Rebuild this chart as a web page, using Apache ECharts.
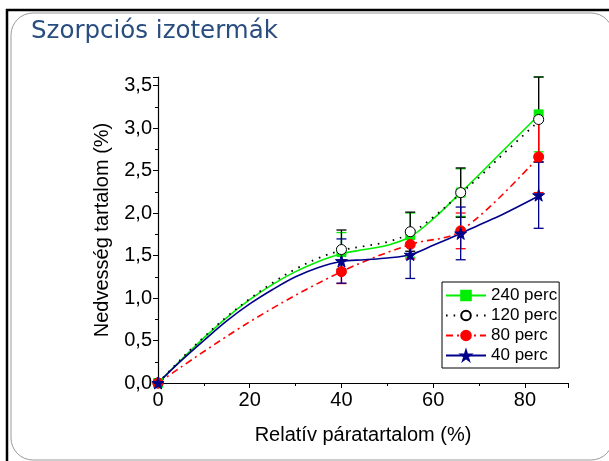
<!DOCTYPE html>
<html><head><meta charset="utf-8">
<script src="https://cdn.jsdelivr.net/npm/echarts@6/dist/echarts.min.js"></script>
<style>html,body{margin:0;padding:0;background:#fff}#c{width:609px;height:461px}</style>
</head><body><div id="c"></div>
<script>
// Measured points (x = relative humidity %, y = moisture content %)
const xPoints = [0, 40, 55, 66, 83];
const p240 = [0, 1.54, 1.74, 2.24, 3.16];
const p120 = [0, 1.57, 1.78, 2.24, 3.10];
const p80  = [0, 1.31, 1.63, 1.79, 2.66];
const p40  = [0, 1.435, 1.51, 1.76, 2.21];
// error bar half-widths
const e240 = [0, 0.23, 0.26, 0.28, 0.44];
const e120 = [0, 0.23, 0.23, 0.29, 0.50];
const e80  = [0, 0.14, 0.17, 0.21, 0.42];
const e40  = [0, 0.26, 0.28, 0.31, 0.39];
// Fitted curves
const xCurve = [0, 5, 10, 15, 20, 25, 30, 35, 40, 45, 50, 55, 60, 66, 70, 75, 83];
const c240 = [0, 0.27, 0.53, 0.77, 0.98, 1.16, 1.31, 1.43, 1.52, 1.57, 1.62, 1.72, 1.93, 2.24, 2.45, 2.72, 3.15];
const c120 = [0, 0.28, 0.54, 0.78, 0.99, 1.18, 1.34, 1.47, 1.56, 1.61, 1.66, 1.76, 1.95, 2.23, 2.42, 2.68, 3.08];
const c40  = [0, 0.26, 0.50, 0.73, 0.93, 1.10, 1.25, 1.36, 1.43, 1.45, 1.47, 1.51, 1.62, 1.76, 1.86, 1.98, 2.20];
const xRed = [0, 20, 40, 55, 66, 83];
const c80  = [0, 0.72, 1.31, 1.63, 1.79, 2.66];
const names = ['240 perc', '120 perc', '80 perc', '40 perc'];
const yTicks = [0, 0.5, 1.0, 1.5, 2.0, 2.5, 3.0, 3.5];
const xTicks = [0, 20, 40, 60, 80];

const STAR = 'path://M50,0 L61,35 L98,35 L68,57 L79,91 L50,70 L21,91 L32,57 L2,35 L39,35 Z';
const zip = (xs, ys) => xs.map((x, i) => [x, ys[i]]);
const errData = (ys, es) => xPoints.map((x, i) => [x, Math.max(0, ys[i] - es[i]), Math.min(3.6, ys[i] + es[i])]).filter(d => d[0] > 0);

function errSeries(ys, es, color) {
  return {
    type: 'custom', silent: true, z: 3,
    data: errData(ys, es),
    renderItem: function (params, api) {
      const x = api.value(0), lo = api.value(1), hi = api.value(2);
      const a = api.coord([x, lo]), b = api.coord([x, hi]);
      const w = 5, st = { stroke: color, lineWidth: 1.3 };
      return { type: 'group', children: [
        { type: 'line', shape: { x1: a[0], y1: a[1], x2: b[0], y2: b[1] }, style: st },
        { type: 'line', shape: { x1: a[0] - w, y1: a[1], x2: a[0] + w, y2: a[1] }, style: st },
        { type: 'line', shape: { x1: b[0] - w, y1: b[1], x2: b[0] + w, y2: b[1] }, style: st }
      ] };
    }
  };
}

const cfg = [
  { name: names[0], color: '#00ee00', curve: zip(xCurve, c240), pts: p240, err: e240, symbol: 'rect', size: 9, line: { type: 'solid', width: 1.6 }, fill: '#00ee00' },
  { name: names[1], color: '#000000', curve: zip(xCurve, c120), pts: p120, err: e120, symbol: 'circle', size: 10, line: { type: [1.6, 6], width: 1.8 }, fill: '#ffffff' },
  { name: names[2], color: '#ff0000', curve: zip(xRed, c80), pts: p80, err: e80, symbol: 'circle', size: 10, line: { type: [7, 4, 2, 4], width: 1.6 }, fill: '#ff0000' },
  { name: names[3], color: '#00008b', curve: zip(xCurve, c40), pts: p40, err: e40, symbol: STAR, size: 12, line: { type: 'solid', width: 1.6 }, fill: '#00008b' }
];

const series = [];
cfg.forEach(c => series.push(errSeries(c.pts, c.err, c.color)));
cfg.forEach(c => {
  series.push({
    name: c.name, type: 'line', data: c.curve, smooth: 0.35, showSymbol: false,
    symbol: c.symbol, symbolSize: c.symbol === STAR ? 11 : 9, z: 4,
    itemStyle: { color: c.fill, borderColor: c.color, borderWidth: 1 },
    lineStyle: { color: c.color, type: c.line.type, width: c.line.width }
  });
});
cfg.forEach(c => {
  series.push({
    name: c.name, type: 'scatter', data: zip(xPoints, c.pts), symbol: c.symbol, symbolSize: c.size, z: 5,
    itemStyle: { color: c.fill, borderColor: c.color, borderWidth: 1, opacity: 1 }
  });
});

const chart = echarts.init(document.getElementById('c'), null, { renderer: 'canvas' });
chart.setOption({
  animation: false,
  backgroundColor: '#ffffff',
  textStyle: { fontFamily: 'Liberation Sans, Arial, sans-serif' },
  title: {
    text: 'Szorpciós izotermák', left: 26, top: 14,
    textStyle: { fontFamily: 'DejaVu Sans', fontSize: 24.5, fontWeight: 'normal', color: '#2a4d80' }
  },
  graphic: [
    { type: 'rect', shape: { x: 11, y: 13, width: 602, height: 447, r: 22 }, style: { fill: 'none', stroke: '#9a9a9a', lineWidth: 1 }, z: 0 },
    { type: 'line', shape: { x1: 6, y1: 10, x2: 609, y2: 10 }, style: { stroke: '#000', lineWidth: 2.5 } },
    { type: 'line', shape: { x1: 7, y1: 9, x2: 7, y2: 461 }, style: { stroke: '#000', lineWidth: 2.5 } }
  ],
  grid: { left: 158, right: 41, top: 77, bottom: 78, containLabel: false },
  legend: {
    data: names, orient: 'vertical', left: 442, top: 282,
    backgroundColor: '#fff', borderColor: '#000', borderWidth: 1, borderRadius: 0,
    padding: [5, 2, 4, 3], itemGap: 3, itemWidth: 40, itemHeight: 12,
    textStyle: { fontSize: 17, color: '#000', fontFamily: 'Liberation Sans' }
  },
  xAxis: {
    type: 'value', min: 0, max: 89.4, interval: 20,
    name: 'Relatív páratartalom (%)', nameLocation: 'middle', nameGap: 42,
    nameTextStyle: { fontSize: 20, color: '#000', fontFamily: 'Liberation Sans' },
    axisLine: { lineStyle: { color: '#000', width: 1.2 } },
    axisTick: { show: true, length: 5, lineStyle: { color: '#000' } },
    minorTick: { show: true, splitNumber: 2, length: 3, lineStyle: { color: '#000' } },
    axisLabel: { fontSize: 20, color: '#000', margin: 7, showMaxLabel: false,
      formatter: v => xTicks.includes(v) ? String(v) : '' },
    splitLine: { show: false }
  },
  yAxis: {
    type: 'value', min: 0, max: 3.6, interval: 0.5,
    name: 'Nedvesség tartalom (%)', nameLocation: 'middle', nameGap: 46,
    nameTextStyle: { fontSize: 20, color: '#000', fontFamily: 'Liberation Sans' },
    axisLine: { show: true, lineStyle: { color: '#000', width: 1.2 } },
    axisTick: { show: true, length: 5, lineStyle: { color: '#000' } },
    minorTick: { show: true, splitNumber: 2, length: 3, lineStyle: { color: '#000' } },
    axisLabel: { fontSize: 20, color: '#000', margin: 6, showMaxLabel: false,
      formatter: v => yTicks.some(t => Math.abs(t - v) < 1e-9) ? v.toFixed(1).replace('.', ',') : '' },
    splitLine: { show: false }
  },
  series: series
});
</script></body></html>
